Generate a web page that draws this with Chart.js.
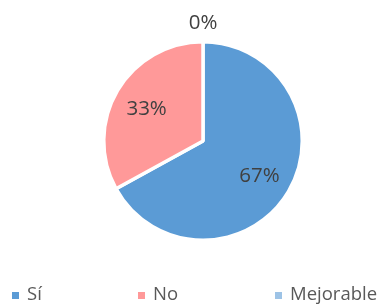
<!DOCTYPE html>
<html>
<head>
<meta charset="utf-8">
<script src="https://cdn.jsdelivr.net/npm/chart.js@4/dist/chart.umd.min.js"></script>
<style>
  html, body { margin: 0; padding: 0; background: #fff; }
  #wrap { width: 380px; height: 305px; position: relative; }
</style>
</head>
<body>
<div id="wrap"><canvas id="c" width="380" height="305"></canvas></div>
<script>
const categories = ['Sí', 'No', 'Mejorable'];
const values = [67, 33, 0];
const percentLabels = ['67%', '33%', '0%'];
const colors = ['#5B9BD5', '#FF9999', '#9DC3E6'];

// percent labels: inside the slice, or just outside when the slice is empty
const sliceLabels = {
    id: 'sliceLabels',
    afterDatasetsDraw(chart) {
        const ctx = chart.ctx;
        const meta = chart.getDatasetMeta(0);
        ctx.save();
        ctx.font = '20.5px "Open Sans"';
        ctx.fillStyle = '#404040';
        ctx.textAlign = 'center';
        ctx.textBaseline = 'middle';
        meta.data.forEach((arc, i) => {
            const mid = (arc.startAngle + arc.endAngle) / 2;
            const r = values[i] === 0 ? arc.outerRadius + 21 : arc.outerRadius * 0.66;
            ctx.fillText(percentLabels[i], arc.x + Math.cos(mid) * r, arc.y + Math.sin(mid) * r + 2);
        });
        ctx.restore();
    }
};

// bottom legend spread over the width like the original
const spreadLegend = {
    id: 'spreadLegend',
    afterDraw(chart) {
        const ctx = chart.ctx;
        const xs = [12, 138, 275];
        ctx.save();
        ctx.font = '18.5px "Open Sans"';
        ctx.textBaseline = 'middle';
        categories.forEach((name, i) => {
            ctx.fillStyle = colors[i];
            ctx.fillRect(xs[i], 292, 7, 7);
            ctx.fillStyle = '#595959';
            ctx.fillText(name, xs[i] + 15, 295);
        });
        ctx.restore();
    }
};

new Chart(document.getElementById('c'), {
    type: 'pie',
    data: {
        labels: categories,
        datasets: [{
            data: values,
            backgroundColor: colors,
            borderColor: '#ffffff',
            borderWidth: 3.5,
        }],
    },
    options: {
        responsive: false,
        animation: false,
        layout: { padding: { top: 40, bottom: 63, left: 26, right: 0 } },
        plugins: {
            legend: { display: false },
            tooltip: { enabled: false },
        },
    },
    plugins: [sliceLabels, spreadLegend],
});
</script>
</body>
</html>
